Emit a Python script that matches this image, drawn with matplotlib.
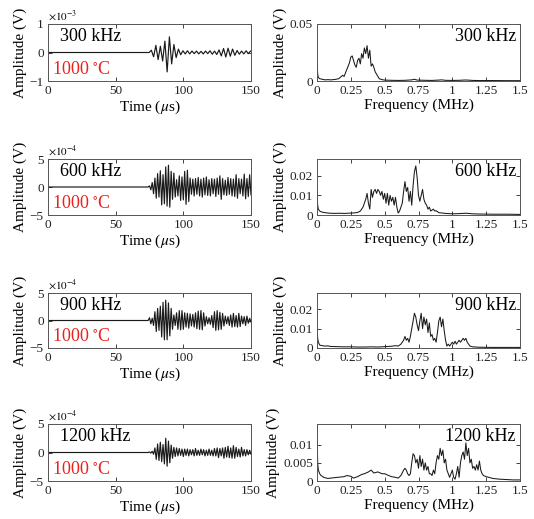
import numpy as np
import matplotlib
matplotlib.use('Agg')
import matplotlib.pyplot as plt

plt.rcParams['font.family'] = ['Liberation Serif', 'DejaVu Serif']
plt.rcParams['mathtext.fontset'] = 'stix'

# Frecuencias de excitación y temperatura
frecuencias = ['300 kHz', '600 kHz', '900 kHz', '1200 kHz']
temperatura = '1000 $^{\\circ}$C'

# Señales en el tiempo: picos sucesivos (con signo), desde T0 con paso DT (µs)
T0 = [74.7, 75.0, 75.0, 75.0]
DT = [1.667, 1.0, 1.0, 1.0]
escala_exp = [-3, -4, -4, -4]
lim_senal = [1, 5, 5, 5]

senal_300 = [0.0, 0.08, -0.15, 0.25, -0.25, 0.22, -0.3, 0.4, -0.68, 0.55, -0.4, 0.28,
             -0.18, 0.12, -0.08, 0.06, -0.05, 0.06, -0.05, 0.05, -0.04, 0.05, -0.05,
             0.04, -0.05, 0.05, -0.04, 0.06, -0.06, 0.05, -0.07, 0.09, -0.12, 0.14,
             -0.16, 0.15, -0.13, 0.12, -0.1, 0.07, -0.06, 0.05, -0.05, 0.06, -0.04, 0.05]

senal_600 = [0.2, -0.5, 0.8, -1.2, 1.6, -2.0, 2.4, -1.8, 2.9, -3.2, 2.2, -3.0, 3.6, -3.4,
             3.9, -3.6, 2.8, -2.2, 2.5, -1.8, 1.3, -1.6, 2.0, -2.4, 1.8, -2.3, 2.8, -3.1,
             3.0, -2.6, 1.6, -1.3, 1.4, -1.6, 1.5, -1.3, 1.7, -1.6, 1.4, -1.8, 1.6, -1.4,
             1.8, -1.5, 1.3, -1.6, 1.5, -1.2, 1.4, -1.7, 1.6, -1.3, 2.0, -2.2, 1.5, -1.4,
             1.2, -1.5, 1.7, -1.3, 1.5, -1.6, 1.4, -1.7, 2.2, -2.0, 1.5, -1.2, 1.4, -1.6,
             2.3, -2.1, 1.5, -1.7, 2.2, -1.4]

senal_900 = [0.5, -0.6, 0.4, -0.9, 1.6, -2.0, 2.2, -1.8, 2.6, -3.0, 3.3, -3.5, 3.7, -3.5,
             3.2, -2.8, 2.2, -1.6, 1.0, -0.9, 1.4, -1.6, 1.8, -1.7, 1.8, -1.6, 1.4, -1.2,
             1.3, -1.4, 1.2, -1.0, 1.1, -1.2, 1.4, -1.5, 1.7, -1.6, 1.8, -1.7, 1.4, -1.0,
             0.7, -0.6, 0.5, -0.7, 0.9, -1.3, 1.6, -1.8, 1.8, -1.7, 1.5, -1.6, 1.3, -1.0,
             0.8, -0.6, 0.7, -0.9, 1.0, -1.2, 1.3, -1.1, 0.9, -1.2, 1.3, -1.1, 0.8, -0.6,
             0.7, -0.9, 0.8, -0.5, 0.4, -0.3]

senal_1200 = [0.1, -0.1, 0.2, -0.3, 0.8, -1.2, 1.5, -1.4, 1.8, -1.6, 1.4, -2.0, 2.5, -2.4,
              2.0, -1.8, 1.3, -1.0, 0.9, -0.7, 0.8, -0.6, 0.7, -0.5, 0.6, -0.7, 0.6, -0.5,
              0.6, -0.6, 0.5, -0.4, 0.5, -0.6, 0.7, -0.5, 0.4, -0.5, 0.6, -0.4, 0.5, -0.6,
              0.4, -0.5, 0.6, -0.5, 0.4, -0.6, 0.7, -0.6, 0.8, -0.9, 0.7, -0.6, 0.8, -1.0,
              0.9, -0.8, 1.1, -0.9, 0.8, -1.0, 1.2, -1.0, 0.9, -0.7, 0.6, -0.8, 0.9, -0.6,
              0.5, -0.6, 0.5, -0.4, 0.4, -0.3]

senales = [senal_300, senal_600, senal_900, senal_1200]

# Espectros: pares (frecuencia MHz, amplitud V)
espectro_300 = [(0, 0.019), (0.005, 0.006), (0.01, 0.003), (0.02, 0.002), (0.04, 0.0015),
                (0.06, 0.001), (0.08, 0.0012), (0.1, 0.001), (0.12, 0.0012), (0.14, 0.0015),
                (0.16, 0.002), (0.17, 0.003), (0.18, 0.004), (0.19, 0.005), (0.2, 0.004),
                (0.21, 0.007), (0.22, 0.01), (0.23, 0.013), (0.24, 0.016), (0.25, 0.021),
                (0.26, 0.022), (0.27, 0.018), (0.28, 0.014), (0.29, 0.012), (0.3, 0.018),
                (0.31, 0.02), (0.32, 0.015), (0.33, 0.024), (0.34, 0.02), (0.35, 0.029),
                (0.36, 0.024), (0.37, 0.031), (0.38, 0.02), (0.39, 0.027), (0.4, 0.013),
                (0.41, 0.015), (0.42, 0.012), (0.43, 0.008), (0.44, 0.006), (0.45, 0.004),
                (0.46, 0.002), (0.48, 0.0012), (0.5, 0.0008), (0.55, 0.0006), (0.6, 0.0005),
                (0.65, 0.0006), (0.7, 0.001), (0.72, 0.0015), (0.74, 0.0008), (0.8, 0.0006),
                (0.85, 0.0005), (0.9, 0.0008), (0.92, 0.001), (0.95, 0.0006), (1.0, 0.0005),
                (1.05, 0.0006), (1.1, 0.0009), (1.15, 0.0005), (1.2, 0.0004), (1.3, 0.0004),
                (1.4, 0.0003), (1.5, 0.0003)]

espectro_600 = [(0, 0.012), (0.005, 0.005), (0.01, 0.003), (0.02, 0.002), (0.04, 0.0014),
                (0.06, 0.0012), (0.08, 0.001), (0.1, 0.0009), (0.13, 0.0008), (0.16, 0.0009),
                (0.2, 0.0008), (0.23, 0.0009), (0.26, 0.001), (0.28, 0.0011), (0.3, 0.0013),
                (0.32, 0.002), (0.34, 0.004), (0.35, 0.006), (0.36, 0.008), (0.37, 0.011),
                (0.38, 0.006), (0.39, 0.003), (0.40, 0.013), (0.41, 0.009), (0.42, 0.012),
                (0.43, 0.013), (0.44, 0.011), (0.45, 0.013), (0.46, 0.012), (0.47, 0.01),
                (0.48, 0.012), (0.49, 0.008), (0.50, 0.011), (0.51, 0.006), (0.52, 0.011),
                (0.53, 0.005), (0.54, 0.01), (0.55, 0.007), (0.56, 0.009), (0.57, 0.005),
                (0.58, 0.009), (0.59, 0.004), (0.60, 0.001), (0.61, 0.002), (0.62, 0.004),
                (0.63, 0.006), (0.64, 0.012), (0.65, 0.017), (0.66, 0.012), (0.67, 0.014),
                (0.68, 0.007), (0.69, 0.012), (0.70, 0.005), (0.71, 0.015), (0.72, 0.022),
                (0.73, 0.025), (0.74, 0.019), (0.75, 0.01), (0.76, 0.007), (0.77, 0.01),
                (0.78, 0.013), (0.79, 0.008), (0.80, 0.006), (0.81, 0.005), (0.82, 0.003),
                (0.83, 0.004), (0.84, 0.002), (0.85, 0.0025), (0.86, 0.003), (0.87, 0.002),
                (0.88, 0.0022), (0.9, 0.0012), (0.95, 0.0008), (1.0, 0.0006), (1.05, 0.0007),
                (1.1, 0.0009), (1.15, 0.0006), (1.2, 0.0005), (1.3, 0.0004), (1.4, 0.0004),
                (1.5, 0.0003)]

espectro_900 = [(0, 0.0105), (0.005, 0.005), (0.01, 0.003), (0.02, 0.0015), (0.04, 0.0012),
                (0.06, 0.001), (0.08, 0.0011), (0.1, 0.0008), (0.15, 0.0007), (0.2, 0.0006),
                (0.25, 0.0006), (0.3, 0.0005), (0.35, 0.0005), (0.4, 0.0006), (0.45, 0.0005),
                (0.5, 0.0007), (0.55, 0.0009), (0.58, 0.0012), (0.6, 0.001), (0.62, 0.002),
                (0.64, 0.004), (0.65, 0.006), (0.66, 0.004), (0.67, 0.005), (0.68, 0.003),
                (0.69, 0.006), (0.70, 0.01), (0.71, 0.014), (0.72, 0.018), (0.73, 0.016),
                (0.74, 0.012), (0.75, 0.009), (0.76, 0.014), (0.77, 0.018), (0.78, 0.01),
                (0.79, 0.016), (0.80, 0.012), (0.81, 0.015), (0.82, 0.008), (0.83, 0.013),
                (0.84, 0.006), (0.85, 0.007), (0.86, 0.004), (0.87, 0.005), (0.88, 0.003),
                (0.89, 0.008), (0.90, 0.014), (0.91, 0.016), (0.92, 0.011), (0.93, 0.015),
                (0.94, 0.009), (0.95, 0.004), (0.96, 0.001), (0.97, 0.002), (0.98, 0.001),
                (0.99, 0.002), (1.00, 0.003), (1.01, 0.002), (1.02, 0.0035), (1.03, 0.002),
                (1.04, 0.003), (1.05, 0.004), (1.06, 0.003), (1.07, 0.004), (1.08, 0.005),
                (1.09, 0.004), (1.10, 0.005), (1.11, 0.003), (1.12, 0.002), (1.13, 0.001),
                (1.15, 0.0006), (1.2, 0.0004), (1.3, 0.0003), (1.4, 0.0003), (1.5, 0.0003)]

espectro_1200 = [(0, 0.014), (0.005, 0.005), (0.01, 0.003), (0.02, 0.002), (0.03, 0.0015),
                 (0.05, 0.001), (0.08, 0.0007), (0.1, 0.0008), (0.15, 0.001), (0.2, 0.0012),
                 (0.22, 0.0015), (0.25, 0.0013), (0.27, 0.0008), (0.3, 0.0012), (0.33, 0.0018),
                 (0.35, 0.002), (0.38, 0.0025), (0.40, 0.003), (0.42, 0.0022), (0.45, 0.0025),
                 (0.48, 0.002), (0.5, 0.002), (0.53, 0.0015), (0.55, 0.0012), (0.58, 0.001),
                 (0.6, 0.0008), (0.62, 0.0015), (0.64, 0.003), (0.65, 0.0035), (0.66, 0.003),
                 (0.67, 0.002), (0.68, 0.0015), (0.69, 0.002), (0.70, 0.005), (0.71, 0.0075),
                 (0.72, 0.007), (0.73, 0.005), (0.74, 0.006), (0.75, 0.0035), (0.76, 0.007),
                 (0.77, 0.004), (0.78, 0.006), (0.79, 0.003), (0.80, 0.005), (0.81, 0.003),
                 (0.82, 0.004), (0.83, 0.002), (0.84, 0.002), (0.85, 0.0015), (0.86, 0.003),
                 (0.87, 0.002), (0.88, 0.005), (0.89, 0.007), (0.90, 0.006), (0.91, 0.009),
                 (0.92, 0.007), (0.93, 0.0085), (0.94, 0.005), (0.95, 0.006), (0.96, 0.003),
                 (0.97, 0.002), (0.98, 0.001), (0.99, 0.002), (1.00, 0.003), (1.01, 0.001),
                 (1.02, 0.0005), (1.03, 0.002), (1.04, 0.004), (1.05, 0.001), (1.06, 0.005),
                 (1.07, 0.007), (1.08, 0.008), (1.09, 0.006), (1.10, 0.0105), (1.11, 0.007),
                 (1.12, 0.009), (1.13, 0.005), (1.14, 0.006), (1.15, 0.0035), (1.16, 0.004),
                 (1.17, 0.003), (1.18, 0.0045), (1.19, 0.003), (1.20, 0.0055), (1.21, 0.003),
                 (1.22, 0.002), (1.23, 0.0015), (1.25, 0.0012), (1.27, 0.001), (1.3, 0.0007),
                 (1.35, 0.0005), (1.4, 0.0004), (1.45, 0.0003), (1.5, 0.0003)]

espectros = [espectro_300, espectro_600, espectro_900, espectro_1200]
lim_espectro = [0.05, 0.0285, 0.0285, 0.0157]
ticks_espectro = [[0, 0.05], [0, 0.01, 0.02], [0, 0.01, 0.02], [0, 0.005, 0.01]]
etiquetas_espectro = [['0', '0.05'], ['0', '0.01', '0.02'], ['0', '0.01', '0.02'],
                      ['0', '0.005', '0.01']]

W, H = 534, 519
filas_px = [(24, 81), (159, 215), (293, 348), (424, 481)]
color_linea = '#1a1a1a'


def estilo_ejes(ax):
    ax.tick_params(direction='in', top=True, right=True, length=3, width=0.6,
                   labelsize=9.5, pad=3, colors='#222222')
    for s in ax.spines.values():
        s.set_linewidth(0.7)
        s.set_color('#555555')


fig = plt.figure(figsize=(W / 100, H / 100), dpi=100)

for i in range(4):
    top, bot = filas_px[i]
    b = 1 - bot / H
    h = (bot - top) / H

    # Señal en el tiempo
    ax = fig.add_axes([48 / W, b, 203 / W, h])
    valores = senales[i]
    t = np.concatenate([[0, T0[i] - 1], T0[i] + DT[i] * np.arange(len(valores))])
    y = np.concatenate([[0, 0], valores])
    ax.plot(t, y, color=color_linea, lw=0.85)
    ax.set_xlim(0, 150)
    ax.set_ylim(-lim_senal[i], lim_senal[i])
    ax.set_xticks([0, 50, 100, 150])
    ax.set_yticks([-lim_senal[i], 0, lim_senal[i]])
    estilo_ejes(ax)
    ax.set_xlabel('Time ($\\mu$s)', fontsize=11, labelpad=1)
    ax.set_ylabel('Amplitude (V)', fontsize=11, labelpad=2)
    ax.text(0.0, 1.01, '$\\times10^{%d}$' % escala_exp[i], transform=ax.transAxes,
            fontsize=8, va='bottom', ha='left')
    ax.text(0.06, 0.93, frecuencias[i], transform=ax.transAxes, fontsize=13,
            va='top', ha='left')
    ax.text(0.02, 0.06, temperatura, transform=ax.transAxes, fontsize=13,
            va='bottom', ha='left', color='#e8231f')

    # Espectro
    ax2 = fig.add_axes([317 / W, b, 203 / W, h])
    f, a = np.array(espectros[i]).T
    ax2.plot(f, a, color=color_linea, lw=0.75)
    ax2.set_xlim(0, 1.5)
    ax2.set_ylim(0, lim_espectro[i])
    ax2.set_xticks([0, 0.25, 0.5, 0.75, 1, 1.25, 1.5])
    ax2.set_xticklabels(['0', '0.25', '0.5', '0.75', '1', '1.25', '1.5'])
    ax2.set_yticks(ticks_espectro[i])
    ax2.set_yticklabels(etiquetas_espectro[i])
    estilo_ejes(ax2)
    ax2.set_xlabel('Frequency (MHz)', fontsize=11, labelpad=1)
    ax2.set_ylabel('Amplitude (V)', fontsize=11, labelpad=2)
    ax2.text(0.98, 0.93, frecuencias[i], transform=ax2.transAxes, fontsize=13,
             va='top', ha='right')

fig.savefig('out.png', dpi=100)
